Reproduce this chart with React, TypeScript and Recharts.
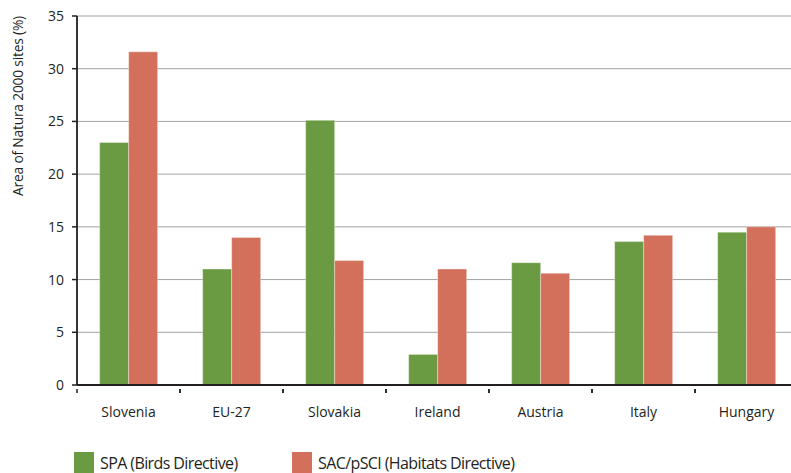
import React from 'react';
import { BarChart, Bar, XAxis, YAxis, CartesianGrid } from 'recharts';

const countries = ['Slovenia', 'EU-27', 'Slovakia', 'Ireland', 'Austria', 'Italy', 'Hungary'];
const spaValues = [23, 11, 25.1, 2.9, 11.6, 13.6, 14.5];
const sacValues = [31.6, 14, 11.8, 11, 10.6, 14.2, 15];
const yTicks = [0, 5, 10, 15, 20, 25, 30, 35];
const spaLabel = 'SPA (Birds Directive)';
const sacLabel = 'SAC/pSCI (Habitats Directive)';
const yAxisTitle = 'Area of Natura 2000 sites (%)';

const data = countries.map((c, i) => ({ country: c, spa: spaValues[i], sac: sacValues[i] }));

const GREEN = '#6a9a41';
const RED = '#d2705b';
const INK = '#231f20';
const FONT = '"Open Sans", sans-serif';

const CategoryTick = (props: any) => {
  const { x, y, payload } = props;
  const off = payload.offset || 0;
  return (
    <g>
      <line x1={x - off} y1={y - 4} x2={x - off} y2={y} stroke={INK} strokeWidth={1.5} />
      <line x1={x + off} y1={y - 4} x2={x + off} y2={y} stroke={INK} strokeWidth={1.5} />
      <text x={x} y={y + 14} dy="0.71em" textAnchor="middle" fill={INK} fontSize={14} fontFamily={FONT}>
        {payload.value}
      </text>
    </g>
  );
};

const YTitle = (props: any) => {
  const vb = props.viewBox || { x: 0, y: 0 };
  const x = 23;
  const y = vb.y + 90;
  return (
    <text x={x} y={y} transform={`rotate(-90 ${x} ${y})`} textAnchor="middle" fill={INK} fontSize={13.8} fontFamily={FONT} letterSpacing={-0.2}>
      {yAxisTitle}
    </text>
  );
};

const legendText: React.CSSProperties = {
  position: 'absolute',
  top: 452,
  fontFamily: FONT,
  fontSize: 16,
  letterSpacing: '-0.6px',
  color: INK,
  lineHeight: '22px',
  whiteSpace: 'nowrap',
};

export default function App() {
  return (
    <div style={{ position: 'absolute', left: 0, top: 0, width: 791, height: 473, overflow: 'hidden', background: '#fff' }}>
      <BarChart
        width={812}
        height={473}
        data={data}
        margin={{ top: 16, right: 14, left: 0, bottom: 58 }}
        barCategoryGap="22%"
        barGap={0}
      >
        <CartesianGrid vertical={false} stroke="#a3a3a3" strokeWidth={1} />
        <XAxis
          dataKey="country"
          height={30}
          tickLine={false}
          axisLine={{ stroke: INK, strokeWidth: 1.8 }}
          tick={<CategoryTick />}
          interval={0}
        />
        <YAxis
          width={77}
          domain={[0, 35]}
          ticks={yTicks}
          interval={0}
          tickSize={5}
          tickMargin={8}
          axisLine={{ stroke: INK, strokeWidth: 1.8 }}
          tickLine={{ stroke: INK, strokeWidth: 1.5 }}
          tick={{ fill: INK, fontSize: 14, fontFamily: FONT }}
          label={<YTitle />}
        />
        <Bar dataKey="spa" fill={GREEN} stroke="rgba(255,255,255,0.45)" strokeWidth={0.8} isAnimationActive={false} />
        <Bar dataKey="sac" fill={RED} stroke="rgba(255,255,255,0.45)" strokeWidth={0.8} isAnimationActive={false} />
      </BarChart>
      <div style={{ position: 'absolute', left: 74, top: 452, width: 20, height: 21, background: GREEN }} />
      <div style={{ ...legendText, left: 100 }}>{spaLabel}</div>
      <div style={{ position: 'absolute', left: 292, top: 452, width: 20, height: 21, background: RED }} />
      <div style={{ ...legendText, left: 318 }}>{sacLabel}</div>
    </div>
  );
}
